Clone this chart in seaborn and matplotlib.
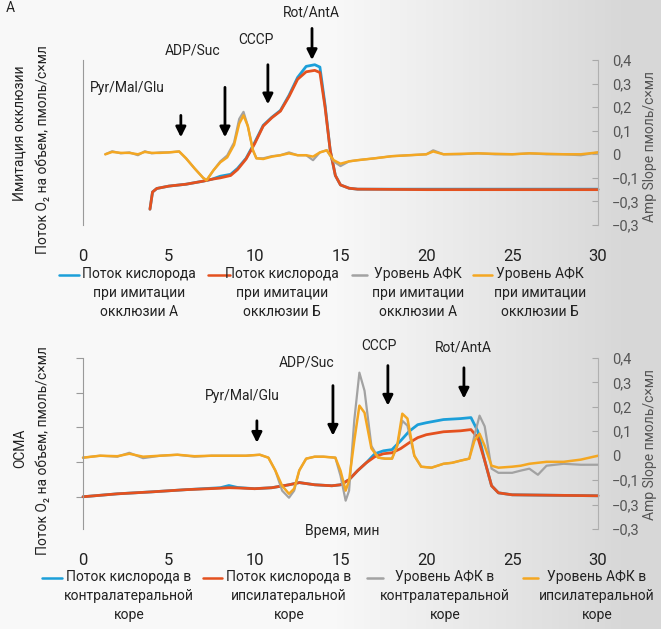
import numpy as np
import matplotlib
matplotlib.use("Agg")
import matplotlib.pyplot as plt
import seaborn as sns
from matplotlib.lines import Line2D

sns.set_style("white")
plt.rcParams['font.family'] = ['Roboto', 'DejaVu Sans']

BLUE = '#1c9fd9'
RED = '#e4511f'
GRAY = '#a2a2a2'
ORANGE = '#f4a722'

# ---- Верхняя панель: имитация окклюзии ----
t_o2_top = [3.9, 4.05, 4.3, 5, 6, 7, 7.5, 8, 8.6, 9, 9.5, 10, 10.5, 11, 11.5, 12, 12.5,
            13, 13.5, 13.8, 14.1, 14.4, 14.7, 15, 15.5, 16, 20, 25, 30]
o2_top_a = [-0.233, -0.16, -0.145, -0.135, -0.127, -0.114, -0.106, -0.093, -0.085, -0.06,
            -0.017, 0.05, 0.123, 0.157, 0.186, 0.25, 0.326, 0.373, 0.38, 0.37, 0.21, 0.017,
            -0.09, -0.13, -0.144, -0.148, -0.148, -0.148, -0.148]
o2_top_b = [-0.233, -0.16, -0.145, -0.135, -0.127, -0.114, -0.106, -0.10, -0.09, -0.065,
            -0.02, 0.045, 0.12, 0.155, 0.183, 0.245, 0.318, 0.35, 0.356, 0.347, 0.2, 0.017,
            -0.09, -0.13, -0.144, -0.148, -0.15, -0.15, -0.15]

t_ros_top = [1.3, 1.7, 2.2, 2.7, 3.2, 3.6, 4, 4.5, 5, 5.6, 6.0, 6.5, 7.0, 7.2, 7.6, 8.0,
             8.4, 8.8, 9.1, 9.35, 9.6, 9.9, 10.1, 10.5, 11, 11.5, 12, 12.5, 13, 13.4,
             13.8, 14.2, 14.6, 15, 15.5, 16, 17, 18, 19, 20, 20.4, 21, 22, 23, 24, 25,
             26, 27, 28, 29, 30]
ros_top_a = [0.0, 0.013, 0.004, 0.008, -0.004, 0.013, 0.004, 0.008, 0.008, 0.012, -0.017,
             -0.06, -0.1, -0.11, -0.068, -0.03, -0.005, 0.05, 0.15, 0.18, 0.12, 0.017,
             -0.017, -0.017, -0.008, -0.004, 0.008, -0.004, -0.004, -0.025, 0.008, 0.017,
             -0.03, -0.05, -0.03, -0.025, -0.017, -0.008, -0.004, 0.0, 0.017, 0.0, 0.0,
             0.004, 0.0, 0.0, 0.004, 0.0, 0.0, -0.004, 0.008]
ros_top_b = [0.0, 0.01, 0.006, 0.006, 0.0, 0.01, 0.006, 0.006, 0.008, 0.012, -0.017,
             -0.06, -0.1, -0.11, -0.068, -0.034, -0.013, 0.04, 0.13, 0.165, 0.12, 0.017,
             -0.017, -0.02, -0.01, -0.004, 0.004, -0.004, -0.004, -0.01, 0.008, 0.017,
             -0.025, -0.04, -0.03, -0.025, -0.017, -0.008, -0.004, 0.0, 0.012, 0.0, 0.002,
             0.004, 0.002, 0.0, 0.004, 0.002, 0.0, 0.0, 0.008]

# ---- Нижняя панель: OCMA ----
t_o2_bot = [0, 2, 4, 6, 8, 8.5, 9, 10, 11, 12, 12.6, 13.5, 14.5, 15, 15.5, 16, 16.5, 17,
            17.5, 18, 18.5, 19, 19.5, 20, 21, 22, 22.6, 23, 23.4, 23.8, 24.2, 25, 30]
o2_bot_a = [-0.168, -0.156, -0.148, -0.139, -0.131, -0.122, -0.13, -0.135, -0.131, -0.119,
            -0.11, -0.119, -0.123, -0.119, -0.098, -0.061, -0.029, 0.008, 0.02, 0.025,
            0.061, 0.10, 0.127, 0.135, 0.148, 0.152, 0.156, 0.10, -0.02, -0.123, -0.152,
            -0.16, -0.164]
o2_bot_b = [-0.168, -0.156, -0.148, -0.139, -0.133, -0.131, -0.132, -0.135, -0.131, -0.119,
            -0.11, -0.119, -0.123, -0.119, -0.098, -0.061, -0.029, -0.004, 0.008, 0.012,
            0.029, 0.053, 0.074, 0.086, 0.098, 0.102, 0.107, 0.074, -0.02, -0.123, -0.152,
            -0.16, -0.164]

t_ros_bot = [0, 1, 2, 2.7, 3.5, 4.5, 5.5, 6.5, 7.5, 8.5, 9.5, 10.3, 10.8, 11.2, 11.6, 12.0,
             12.3, 12.6, 13.0, 13.5, 14, 14.7, 15.0, 15.3, 15.5, 15.8, 16.1, 16.4, 16.8,
             17.2, 17.6, 18.0, 18.3, 18.6, 18.9, 19.3, 19.7, 20.3, 21, 21.5, 22, 22.5,
             22.8, 23.1, 23.4, 23.8, 24.2, 25, 25.5, 26, 26.5, 27, 28, 29, 30]
ros_bot_a = [-0.008, 0.0, -0.004, 0.012, -0.01, 0.0, 0.004, -0.004, 0.0, 0.0, 0.0, 0.004,
             -0.008, -0.06, -0.143, -0.172, -0.143, -0.06, -0.012, -0.004, -0.004, -0.008,
             -0.082, -0.184, -0.143, 0.143, 0.34, 0.266, 0.04, -0.008, -0.012, -0.012,
             0.04, 0.143, 0.123, 0.0, -0.045, -0.049, -0.033, -0.029, -0.02, -0.012, 0.082,
             0.164, 0.12, -0.053, -0.07, -0.07, -0.061, -0.053, -0.078, -0.041, -0.033,
             -0.037, -0.037]
ros_bot_b = [-0.008, 0.0, -0.002, 0.008, -0.004, 0.0, 0.004, -0.002, 0.0, 0.0, 0.0, 0.004,
             -0.008, -0.06, -0.123, -0.156, -0.135, -0.06, -0.012, -0.004, -0.004, -0.008,
             -0.061, -0.143, -0.102, 0.06, 0.205, 0.176, 0.03, -0.008, -0.012, -0.012, 0.04,
             0.172, 0.152, 0.0, -0.045, -0.049, -0.033, -0.029, -0.02, -0.012, 0.061, 0.09,
             0.04, -0.041, -0.049, -0.045, -0.041, -0.033, -0.029, -0.025, -0.025, -0.016,
             0.0]

right_ticks = [0.4, 0.3, 0.2, 0.1, 0.0, -0.1, -0.2, -0.3]
right_labels = ['0,4', '0,3', '0,2', '0,1', '0', '\u22120,1', '\u22120,3', '\u22120,3']
x_ticks = [0, 5, 10, 15, 20, 25, 30]

top_legend = ['Поток кислорода\nпри имитации\nокклюзии А',
              'Поток кислорода\nпри имитации\nокклюзии Б',
              'Уровень АФК\nпри имитации\nокклюзии А',
              'Уровень АФК\nпри имитации\nокклюзии Б']
bot_legend = ['Поток кислорода в\nконтралатеральной\nкоре',
              'Поток кислорода в\nипсилатеральной\nкоре',
              'Уровень АФК в\nконтралатеральной\nкоре',
              'Уровень АФК в\nипсилатеральной\nкоре']
top_drugs = ['Pyr/Mal/Glu', 'ADP/Suc', 'CCCP', 'Rot/AntA']
top_drug_t = [5.7, 8.27, 10.77, 13.34]
bot_drug_t = [10.13, 14.56, 17.76, 22.19]

fig = plt.figure(figsize=(6.61, 6.29), dpi=100)
fig.patch.set_facecolor('white')

W, H = 661, 629

# фон скана: светлее слева, серее справа
bg = fig.add_axes([0, 0, 1, 1], zorder=-10)
ramp = np.clip((np.linspace(0, 1, 200) - 0.5) / 0.45, 0, 1)
shade = 0.975 - 0.13 * ramp
bg.imshow(np.dstack([shade, shade, shade])[None, :, :].reshape(1, -1, 3), aspect='auto',
          extent=(0, 1, 0, 1))
bg.set_axis_off()


def px_axes(x0, x1, y_top, y_bot):
    return fig.add_axes([x0 / W, 1 - y_bot / H, (x1 - x0) / W, (y_bot - y_top) / H])


ax1 = px_axes(83, 598, 60, 225)
ax2 = px_axes(83, 598, 358, 529)

sns.lineplot(x=t_o2_top, y=o2_top_a, ax=ax1, color=BLUE, lw=2)
sns.lineplot(x=t_o2_top, y=o2_top_b, ax=ax1, color=RED, lw=2)
sns.lineplot(x=t_ros_top, y=ros_top_a, ax=ax1, color=GRAY, lw=1.6)
sns.lineplot(x=t_ros_top, y=ros_top_b, ax=ax1, color=ORANGE, lw=1.8)

sns.lineplot(x=t_o2_bot, y=o2_bot_a, ax=ax2, color=BLUE, lw=2)
sns.lineplot(x=t_o2_bot, y=o2_bot_b, ax=ax2, color=RED, lw=2)
sns.lineplot(x=t_ros_bot, y=ros_bot_a, ax=ax2, color=GRAY, lw=1.6)
sns.lineplot(x=t_ros_bot, y=ros_bot_b, ax=ax2, color=ORANGE, lw=1.8)

for ax in (ax1, ax2):
    ax.set_facecolor('none')
    ax.set_xlim(0, 30)
    ax.set_ylim(-0.3, 0.4)
    for s in ('top', 'bottom'):
        ax.spines[s].set_visible(False)
    ax.spines['left'].set_color('#9a9a9a')
    ax.spines['right'].set_color('#b0b0b0')
    ax.set_xticks(x_ticks)
    ax.tick_params(axis='x', length=0, labelsize=12, pad=17, colors='#222222')
    ax.set_yticks(right_ticks)
    ax.tick_params(axis='y', left=False, labelleft=False, right=True, labelright=True,
                   direction='in', length=4, color='#a8a8a8', labelsize=10.5,
                   labelcolor='#555555', pad=10)
    ax.set_yticklabels(right_labels)
    ax.set_xlabel('')
    ax.set_ylabel('')
    for line in ax.get_lines():
        line.set_clip_on(False)

# левые деления нижней панели
sec = ax2.secondary_yaxis('left')
sec.set_yticks(np.linspace(-0.31, 0.4, 6))
sec.tick_params(length=5, color='#9a9a9a', labelleft=False)
sec.spines['left'].set_visible(False)

arrow = dict(arrowstyle='-|>,head_width=0.3,head_length=0.6', color='black', lw=2,
             shrinkA=0, shrinkB=0)
txt = dict(ha='center', va='center', fontsize=10, color='#222222')

# стрелки верхней панели
top_arrows = [(0.165, 0.072), (0.284, 0.072), (0.38, 0.212), (0.534, 0.40)]
top_text = [(2.6, 0.28), (6.4, 0.44), (10.1, 0.485), (13.3, 0.60)]
for t, (a0, a1), (tx, ty), lab in zip(top_drug_t, top_arrows, top_text, top_drugs):
    ax1.annotate('', xy=(t, a1), xytext=(t, a0), arrowprops=arrow, annotation_clip=False)
    ax1.text(tx, ty, lab, clip_on=False, **txt)

bot_arrows = [(0.143, 0.053), (0.287, 0.082), (0.369, 0.205), (0.36, 0.234)]
bot_text = [(9.26, 0.246), (13.0, 0.38), (17.24, 0.45), (22.13, 0.443)]
for t, (a0, a1), (tx, ty), lab in zip(bot_drug_t, bot_arrows, bot_text, top_drugs):
    ax2.annotate('', xy=(t, a1), xytext=(t, a0), arrowprops=arrow, annotation_clip=False)
    ax2.text(tx, ty, lab, clip_on=False, **txt)

ax2.text(15.1, -0.31, 'Время, мин', clip_on=False, **txt)

# подписи осей
lab = dict(rotation=90, ha='center', va='center', fontsize=10)
fig.text(20 / W, 1 - 133 / H, 'Имитация окклюзии', color='#222222', **lab)
fig.text(43 / W, 1 - 150 / H, 'Поток O₂ на объем, пмоль/с×мл', color='#222222', **lab)
fig.text(20 / W, 1 - 448 / H, 'ОСМА', color='#222222', **lab)
fig.text(43 / W, 1 - 451 / H, 'Поток O₂ на объем, пмоль/с×мл', color='#222222', **lab)
fig.text(650 / W, 1 - 147 / H, 'Amp Slope пмоль/с×мл', color='#555555', **lab)
fig.text(650 / W, 1 - 445 / H, 'Amp Slope пмоль/с×мл', color='#555555', **lab)
fig.text(10 / W, 1 - 8 / H, 'A', fontsize=10, ha='center', va='center', color='#222222')

# легенды
colors = [BLUE, RED, GRAY, ORANGE]
top_leg_pos = [(59, 79, 139), (208, 230, 282), (352, 367, 418), (473, 492, 540)]
bot_leg_pos = [(42, 62, 129), (203, 222, 289), (367, 383, 445), (523, 538, 597)]
for labels, pos, y0 in ((top_legend, top_leg_pos, 275), (bot_legend, bot_leg_pos, 578)):
    for c, lbl, (x0, x1, xc) in zip(colors, labels, pos):
        fig.add_artist(Line2D([x0 / W, x1 / W], [1 - y0 / H, 1 - y0 / H],
                              transform=fig.transFigure, color=c, lw=1.8))
        fig.text(xc / W, 1 - (y0 - 8) / H, lbl, ha='center', va='top', fontsize=10,
                 color='#222222', linespacing=1.45, multialignment='center')

fig.savefig('out.png', dpi=100)
